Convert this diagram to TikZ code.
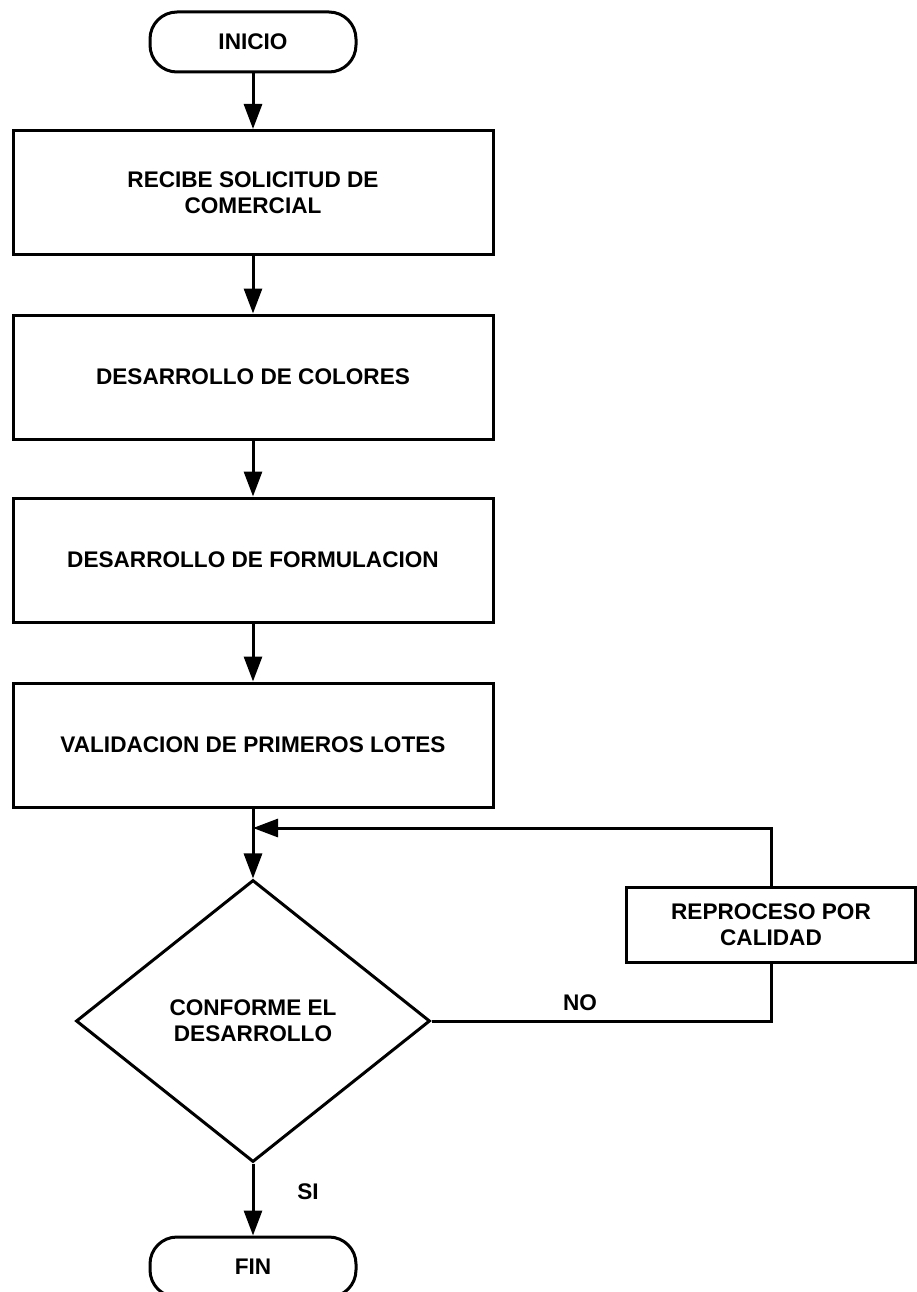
\documentclass[tikz,border=0pt]{standalone}
\usepackage{fontspec}
\setmainfont{Liberation Sans}
\usetikzlibrary{shapes.geometric,arrows.meta}
\begin{document}
\begin{tikzpicture}[x=1pt,y=-1pt,
  line width=3pt,
  every node/.style={font=\fontsize{22.6}{26}\selectfont\bfseries, align=center},
  proc/.style={draw, rectangle, minimum width=480pt, minimum height=124pt, inner sep=0pt},
  term/.style={draw, rectangle, rounded corners=27pt, minimum width=206pt, minimum height=60pt, inner sep=0pt},
  decis/.style={draw, diamond, minimum width=354pt, minimum height=282pt, inner sep=0pt},
  sidebox/.style={draw, rectangle, minimum width=289pt, minimum height=75pt, inner sep=0pt},
  flow/.style={-{Triangle[length=25pt,width=18pt]}}
]
\useasboundingbox[fill=white] (0,0) rectangle (916,1292);

% main column
\node[term] (ini) at (253,42) {INICIO};
\node[proc] (b1) at (253,192.5) {RECIBE SOLICITUD DE\\COMERCIAL};
\node[proc] (b2) at (253,377) {DESARROLLO DE COLORES};
\node[proc] (b3) at (253,560) {DESARROLLO DE FORMULACION};
\node[proc] (b4) at (253,745) {VALIDACION DE PRIMEROS LOTES};
\node[decis] (dec) at (253,1021) {CONFORME EL\\DESARROLLO};
\node[term] (fin) at (253,1267) {FIN};

% rework branch
\node[sidebox] (rep) at (771,924.5) {REPROCESO POR\\CALIDAD};
\coordinate (join) at (253,828);

% connectors
\draw[flow] (ini) -- (b1);
\draw[flow] (b1) -- (b2);
\draw[flow] (b2) -- (b3);
\draw[flow] (b3) -- (b4);
\draw[flow] (b4) -- (dec);
\draw[flow] (dec) -- (fin);
\draw (dec.east) -| (rep.south);
\draw[flow] (rep.north) |- (join);

% branch labels
\node (no) at (580,1003) {NO};
\node (si) at (308,1192) {SI};
\end{tikzpicture}
\end{document}
